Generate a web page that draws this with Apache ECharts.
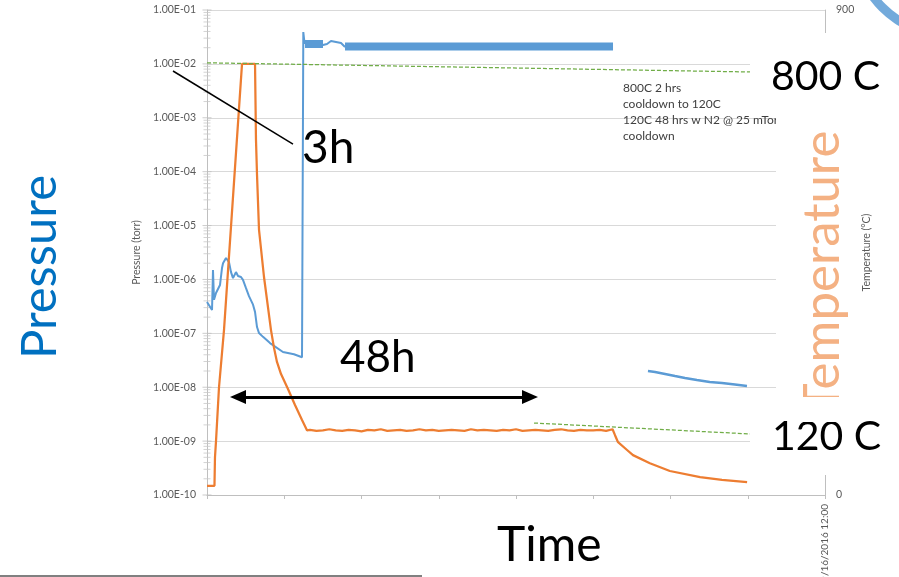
<!DOCTYPE html>
<html>
<head>
<meta charset="utf-8">
<script src="https://cdn.jsdelivr.net/npm/echarts@6.0.0/dist/echarts.min.js"></script>
<style>
html,body{margin:0;padding:0;background:#fff;}
#chart{width:899px;height:577px;}
</style>
</head>
<body>
<div id="chart"></div>
<script>
// ---------- data (time in hours from start) ----------
const xTickHours = [0, 12, 24, 36, 48, 60, 72, 84, 96];
const lastTickLabel = '9/16/2016 12:00';

// Temperature (°C), right axis
const rampTime = [0, 1.16, 1.24, 1.40, 1.86, 2.64, 5.44, 7.46, 7.61, 7.77, 8.08, 8.85, 9.94, 10.41, 10.87, 11.5, 12.58, 13.67, 14.76, 15.53];
const rampC    = [17, 17, 70, 100, 199, 306, 800, 800, 659, 594, 492, 405, 306, 273, 247, 224.5, 196.7, 167, 139, 120];
const holdTime = [16,17,18,19,20,21,22,23,24,25,26,27,28,29,30,31,32,33,34,35,36,37,38,39,40,41,42,43,44,45,46,47,48,49,50,51,52,53,54,55,56,57,58,59,60,61,62,63];
const holdC    = [121,119,120,122,120,119,121,120,118,121,120,122,119,120,121,119,120,122,120,121,119,120,121,120,119,122,120,121,120,119,121,120,122,119,120,121,120,119,121,122,120,119,121,120,120,121,119,122];
const coolTime = [63.07, 63.38, 63.85, 65.25, 66.17, 68.8, 71.9, 76.6, 80, 83.9];
const coolC    = [120, 111, 98, 83.5, 74, 59, 44.5, 33, 28, 24];

// Pressure (torr), left log axis
const pressTime = [0,0.78,0.93,1.09,1.40,2.02,2.33,2.49,2.95,3.11,3.42,3.73,4.04,4.50,4.82,5.28,5.59,6.06,6.52,7.15,7.46,7.77,8.08,8.70,9.79,11.8,13.51,14.76,14.91,14.96,15.15,15.22,18.02,18.64,19.26,20.04,20.82,21.44];
const pressTorr = [3.8e-7,2.7e-7,1.5e-6,4.2e-7,5.6e-7,7.9e-7,1.63e-6,2.0e-6,2.5e-6,2.7e-6,2.1e-6,1.37e-6,1.06e-6,1.37e-6,1.16e-6,1.11e-6,9.8e-7,6.9e-7,4.9e-7,3.4e-7,2.5e-7,1.31e-7,1.01e-7,8.6e-8,6.6e-8,4.5e-8,4.1e-8,3.6e-8,3.6e-8,3.9e-2,2.44e-2,2.34e-2,2.24e-2,2.34e-2,2.66e-2,2.55e-2,2.44e-2,2.06e-2];
const bandTime = [15.22, 18.02, 19.5, 21.44, 63.07];
const bandTorr = [2.34e-2, 2.34e-2, '-', 2.1e-2, 2.1e-2];
const lateTime = [68.5, 69.6, 71.15, 72.7, 74.25, 76.1, 78.1, 80.0, 82.0, 83.88];
const lateTorr = [2.0e-8, 1.92e-8, 1.76e-8, 1.61e-8, 1.48e-8, 1.36e-8, 1.25e-8, 1.2e-8, 1.12e-8, 1.05e-8];

// Trend lines (°C)
const trendHighTime = [0, 84.35];
const trendHighC = [802, 785];
const trendLowTime = [50.8, 84.5];
const trendLowC = [133.6, 113.2];

// Annotations (°C axis)
const pointerTime = [-5.28, 13.36];
const pointerC = [786.8, 651.3];
const arrowTime = [4.82, 50.17];
const arrowC = 181.8;

// log-axis tick marks
const decades = [-10,-9,-8,-7,-6,-5,-4,-3,-2,-1];
const minorMultipliers = [2,3,4,5,6,7,8,9];

// ---------- build ----------
const zip = (a, b) => a.map((v, i) => [v, b[i]]);
const tempData = zip(rampTime, rampC).concat(zip(holdTime, holdC), zip(coolTime, coolC));
const majorTicks = decades.map(e => [0, Math.pow(10, e)]);
const minorTicks = [];
decades.slice(0, -1).forEach(e => minorMultipliers.forEach(m => minorTicks.push([0, m * Math.pow(10, e)])));

const FONT = 'Lato';
const LBL = '#595959';

const chart = echarts.init(document.getElementById('chart'), null, {renderer: 'canvas'});
const option = {
  animation: false,
  backgroundColor: '#ffffff',
  textStyle: {fontFamily: FONT},
  grid: {left: 207, right: 74, top: 10, bottom: 82, containLabel: false, outerBoundsMode: 'none'},
  xAxis: {
    type: 'value', min: 0, max: 96, interval: 12,
    axisLine: {show: true, lineStyle: {color: '#BFBFBF', width: 1}},
    axisTick: {show: true, length: 4, lineStyle: {color: '#BFBFBF'}},
    splitLine: {show: false},
    axisLabel: {
      show: true, rotate: 90, margin: 9, color: LBL, fontSize: 10, fontFamily: FONT,
      showMaxLabel: true, hideOverlap: false,
      formatter: v => (v === xTickHours[xTickHours.length - 1] ? lastTickLabel : '')
    }
  },
  yAxis: [
    {
      type: 'log', logBase: 10, min: 1e-10, max: 1e-1, splitNumber: 9,
      name: 'Pressure (torr)', nameLocation: 'middle', nameRotate: 90, nameGap: 65,
      nameMoveOverlap: false,
      nameTextStyle: {color: LBL, fontSize: 10.5, fontFamily: FONT},
      axisLine: {show: true, lineStyle: {color: '#BFBFBF', width: 1}},
      axisTick: {show: false},
      splitLine: {show: true, lineStyle: {color: '#D9D9D9', width: 1}},
      axisLabel: {
        color: LBL, fontSize: 10.5, fontFamily: FONT, margin: 11,
        formatter: v => {
          const e = Math.round(Math.log10(v));
          return '1.00E' + (e < 0 ? '-' : '+') + String(Math.abs(e)).padStart(2, '0');
        }
      }
    },
    {
      type: 'value', min: 0, max: 900, interval: 900, position: 'right',
      name: 'Temperature (°C)', nameLocation: 'middle', nameRotate: 90, nameGap: 36,
      nameMoveOverlap: false,
      nameTextStyle: {color: LBL, fontSize: 10.5, fontFamily: FONT},
      axisLine: {show: true, lineStyle: {color: '#BFBFBF', width: 1}},
      axisTick: {show: false},
      splitLine: {show: false},
      axisLabel: {color: LBL, fontSize: 10.5, fontFamily: FONT, margin: 11}
    }
  ],
  series: [
    {
      name: 'ticksMajor', type: 'scatter', xAxisIndex: 0, yAxisIndex: 0, silent: true, clip: false,
      symbol: 'rect', symbolSize: [9, 1], itemStyle: {color: '#BFBFBF'}, data: majorTicks, z: 1
    },
    {
      name: 'ticksMinor', type: 'scatter', xAxisIndex: 0, yAxisIndex: 0, silent: true, clip: false,
      symbol: 'rect', symbolSize: [7, 1], itemStyle: {color: '#C8C8C8'}, data: minorTicks, z: 1
    },
    {
      name: 'Pressure', type: 'line', xAxisIndex: 0, yAxisIndex: 0, showSymbol: false,
      lineStyle: {color: '#5B9BD5', width: 2}, data: zip(pressTime, pressTorr)
    },
    {
      name: 'Pressure cycling', type: 'line', xAxisIndex: 0, yAxisIndex: 0, showSymbol: false,
      connectNulls: false,
      lineStyle: {color: '#5B9BD5', width: 8, cap: 'butt'}, data: zip(bandTime, bandTorr)
    },
    {
      name: 'Pressure late', type: 'line', xAxisIndex: 0, yAxisIndex: 0, showSymbol: false,
      lineStyle: {color: '#5B9BD5', width: 2.5}, data: zip(lateTime, lateTorr)
    },
    {
      name: 'Temperature', type: 'line', xAxisIndex: 0, yAxisIndex: 1, showSymbol: false,
      lineStyle: {color: '#ED7D31', width: 2.25}, data: tempData
    },
    {
      name: 'Trend high', type: 'line', xAxisIndex: 0, yAxisIndex: 1, showSymbol: false,
      lineStyle: {color: '#70AD47', width: 1.25, type: [4, 2]}, data: zip(trendHighTime, trendHighC)
    },
    {
      name: 'Trend low', type: 'line', xAxisIndex: 0, yAxisIndex: 1, showSymbol: false,
      lineStyle: {color: '#70AD47', width: 1.25, type: [4, 2]}, data: zip(trendLowTime, trendLowC)
    },
    {
      name: 'Arrow', type: 'line', xAxisIndex: 0, yAxisIndex: 1, showSymbol: false,
      data: [],
      markLine: {
        silent: true, symbol: ['triangle', 'triangle'], symbolSize: [14, 16],
        label: {show: false},
        lineStyle: {color: '#000000', width: 3, type: 'solid'},
        emphasis: {disabled: true},
        data: [[{coord: [arrowTime[0], arrowC]}, {coord: [arrowTime[1], arrowC]}]]
      }
    }
  ],
  graphic: [
    {id: 'notes', type: 'text', z: 99, x: 623, y: 80, style: {
      text: '800C 2 hrs\ncooldown to 120C\n120C 48 hrs w N2 @ 25 mTorr\ncooldown',
      fill: '#404040', font: '12px Lato', lineHeight: 16, align: 'left', verticalAlign: 'top'}},
    {id: 'box800', type: 'rect', z: 100, shape: {x: 750, y: 38, width: 140, height: 62}, style: {fill: '#ffffff'}},
    {id: 'box120', type: 'rect', z: 100, shape: {x: 750, y: 405, width: 140, height: 57}, style: {fill: '#ffffff'}},
    {id: 'boxTemp', type: 'rect', z: 100, shape: {x: 776, y: 33, width: 74, height: 442}, style: {fill: '#ffffff'}},
    {id: 't3h', type: 'text', z: 101, x: 302, y: 148, style: {text: '3h', fill: '#000', font: '46px Lato', align: 'left', verticalAlign: 'middle'}},
    {id: 't48h', type: 'text', z: 101, x: 340, y: 358, style: {text: '48h', fill: '#000', font: '44px Lato', align: 'left', verticalAlign: 'middle'}},
    {id: 't800', type: 'text', z: 101, x: 771, y: 77, style: {text: '800 C', fill: '#000', font: '41px Lato', align: 'left', verticalAlign: 'middle'}},
    {id: 't120', type: 'text', z: 101, x: 772, y: 437, style: {text: '120 C', fill: '#000', font: '41px Lato', align: 'left', verticalAlign: 'middle'}},
    {id: 'tTime', type: 'text', z: 101, x: 497, y: 546, style: {text: 'Time', fill: '#000', font: '48px Lato', align: 'left', verticalAlign: 'middle'}},
    {id: 'tPress', type: 'text', z: 101, x: 40, y: 267, rotation: Math.PI / 2, style: {text: 'Pressure', fill: '#0070C0', font: '49px Lato', align: 'center', verticalAlign: 'middle'}},
    {id: 'tTemp', type: 'text', z: 101, x: 823, y: 272, rotation: Math.PI / 2, style: {text: 'Temperature', fill: '#F4B183', font: '51px Lato', align: 'center', verticalAlign: 'middle'}},
    {id: 'clipT', type: 'rect', z: 102, shape: {x: 795, y: 397, width: 60, height: 25}, style: {fill: '#ffffff'}},
    {id: 'ring', type: 'ring', z: 101, shape: {cx: 950, cy: -60, r: 100, r0: 91}, style: {fill: '#5B9BD5', opacity: 0.85}},
    {id: 'ruler', type: 'rect', z: 101, shape: {x: 0, y: 575, width: 422, height: 2}, style: {fill: '#808080'}}
  ]
};
chart.setOption(option);

// pointer line for the "3h" label, positioned through the axes' scales (extends past the axis)
const px = pointerTime.map(t => chart.convertToPixel({xAxisIndex: 0}, t));
const py = pointerC.map(c => chart.convertToPixel({yAxisIndex: 1}, c));
chart.setOption({
  graphic: [{
    id: 'pointer', type: 'line', z: 98,
    shape: {x1: px[0], y1: py[0], x2: px[1], y2: py[1]},
    style: {stroke: '#000000', lineWidth: 1.5}
  }]
});
</script>
</body>
</html>
